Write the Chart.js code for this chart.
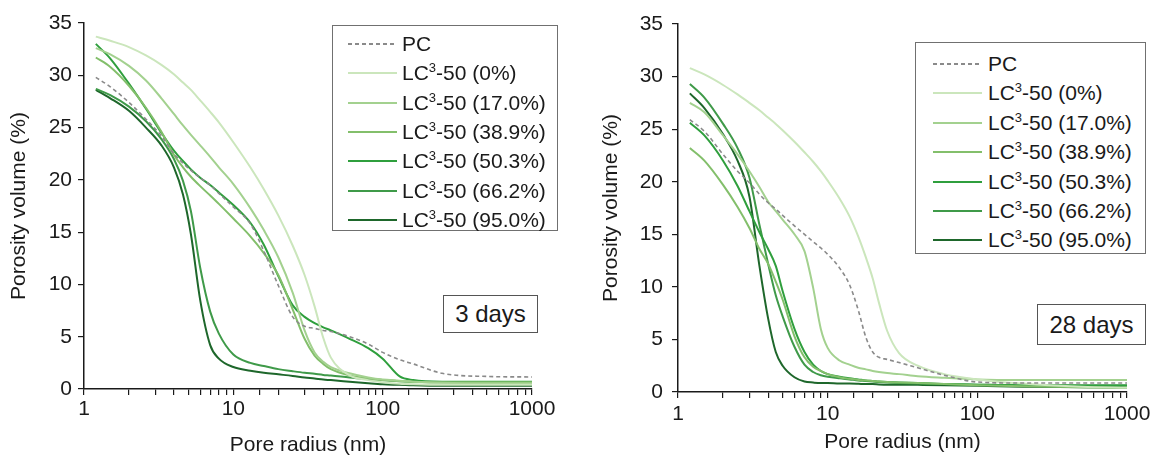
<!DOCTYPE html>
<html>
<head>
<meta charset="utf-8">
<script src="https://cdn.jsdelivr.net/npm/chart.js@4.4.0/dist/chart.umd.min.js"></script>
<style>
  body { margin: 0; background: #fff; width: 1156px; height: 464px; position: relative; overflow: hidden;
         font-family: 'Liberation Sans', Arial, sans-serif; color: #1a1a1a; }
  canvas { position: absolute; top: 0; }
  .legend { position: absolute; border: 1px solid #707070; background: #fff; box-sizing: border-box; }
  .row { position: absolute; height: 28px; line-height: 28px; font-size: 21px; white-space: nowrap; }
  .sample { position: absolute; top: 13px; width: 49px; height: 2px; }
  .sup { font-size: 13px; position: relative; top: -8px; }
  .tag { position: absolute; border: 1px solid #555; box-sizing: border-box; background: #fff;
         font-size: 24px; text-align: center; }
</style>
</head>
<body>
<canvas id="c3" width="580" height="464" style="left:0"></canvas>
<canvas id="c28" width="576" height="464" style="left:580px"></canvas>

<div class="legend" id="leg3" style="left:332px; top:25px; width:226px; height:206px"></div>
<div class="legend" id="leg28" style="left:915px; top:42px; width:231px; height:212px"></div>
<div class="tag" style="left:443px; top:295px; width:95px; height:38px; line-height:36px">3 days</div>
<div class="tag" style="left:1037px; top:304px; width:109px; height:41px; line-height:39px">28 days</div>

<script>
// Pore size distribution, PC vs LC3-50 blends

const mixes = ['0%', '17.0%', '38.9%', '50.3%', '66.2%', '95.0%'];
const mixColors = ['#cbe6bc', '#a3d18f', '#83bf6b', '#2f9f3d', '#3f9a49', '#1e672b'];
const pcColor = '#8a8a8a';

// 3 days
const radius3d = [1.2, 1.5, 2, 2.6, 3.3, 4, 4.6, 5.2, 6, 7, 8, 10, 13, 16, 20, 25, 30, 35, 40, 45, 60, 80, 100, 130, 160, 250, 500, 1000];
const pc3d    = [29.8, 28.9, 27.4, 25.8, 24.2, 22.5, 21.6, 20.9, 20.2, 19.5, 18.7, 17.4, 15.8, 13.2, 9.9, 6.9, 6.0, 5.8, 5.6, 5.5, 5.0, 4.3, 3.5, 2.8, 2.4, 1.5, 1.2, 1.15];
const lc0_3d   = [33.7, 33.3, 32.7, 31.9, 31.0, 30.1, 29.3, 28.6, 27.6, 26.5, 25.5, 23.6, 21.2, 19.1, 16.6, 13.7, 10.9, 7.9, 4.9, 3.0, 1.3, 0.85, 0.65, 0.5, 0.45, 0.4, 0.4, 0.4];
const lc17_3d  = [32.6, 32.0, 30.9, 29.5, 27.8, 26.3, 25.2, 24.3, 23.3, 22.2, 21.2, 19.6, 17.3, 15.2, 12.6, 9.2, 5.6, 3.5, 2.6, 2.1, 1.5, 1.1, 0.9, 0.8, 0.7, 0.6, 0.55, 0.55];
const lc389_3d = [31.7, 30.8, 29.0, 26.9, 24.6, 22.4, 21.2, 20.3, 19.4, 18.5, 17.7, 16.3, 14.6, 13.0, 10.9, 7.6, 4.8, 3.2, 2.4, 1.9, 1.3, 1.0, 0.85, 0.75, 0.7, 0.65, 0.65, 0.65];
const lc503_3d = [33.0, 31.6, 29.2, 26.8, 24.5, 22.8, 21.8, 21.0, 20.2, 19.5, 18.8, 17.6, 15.9, 13.8, 10.8, 8.0, 6.9, 6.3, 5.9, 5.6, 4.8, 3.9, 2.9, 1.2, 0.85, 0.7, 0.7, 0.7];
const lc662_3d = [28.7, 28.1, 27.0, 25.6, 23.9, 22.0, 19.9, 17.0, 11.6, 7.4, 5.3, 3.3, 2.5, 2.2, 1.9, 1.7, 1.55, 1.45, 1.35, 1.3, 1.1, 0.95, 0.85, 0.75, 0.7, 0.65, 0.65, 0.65];
const lc950_3d = [28.6, 27.8, 26.6, 25.0, 23.3, 21.2, 18.6, 14.8, 8.5, 4.2, 2.9, 2.1, 1.75, 1.55, 1.4, 1.25, 1.1, 1.0, 0.9, 0.85, 0.7, 0.55, 0.45, 0.4, 0.35, 0.3, 0.3, 0.3];

// 28 days
const radius28d = [1.2, 1.5, 2, 2.5, 3, 3.5, 4, 4.5, 5, 6, 7, 8, 9, 10, 12, 14, 16, 18, 20, 22, 25, 30, 40, 60, 100, 200, 500, 1000];
const pc28d    = [25.9, 24.8, 22.6, 21.0, 19.9, 18.8, 18.0, 17.4, 16.8, 15.8, 15.0, 14.3, 13.7, 13.1, 11.8, 10.2, 7.8, 5.2, 3.8, 3.3, 3.1, 2.8, 2.3, 1.6, 0.95, 0.85, 0.85, 0.85];
const lc0_28d   = [30.8, 30.2, 29.2, 28.3, 27.5, 26.8, 26.1, 25.5, 24.9, 23.8, 22.8, 21.9, 21.0, 20.1, 18.4, 16.7, 14.8, 12.8, 10.8, 8.5, 5.8, 3.7, 2.5, 1.7, 1.2, 0.8, 0.5, 0.4];
const lc17_28d  = [27.5, 26.6, 24.4, 22.6, 21.0, 19.5, 18.1, 17.2, 16.4, 15.0, 13.4, 9.9, 6.0, 4.2, 3.0, 2.6, 2.3, 2.15, 2.0, 1.9, 1.8, 1.7, 1.5, 1.35, 1.2, 1.15, 1.15, 1.15];
const lc389_28d = [23.2, 22.0, 19.7, 17.6, 15.6, 13.6, 12.2, 10.5, 8.8, 5.3, 3.3, 2.4, 2.0, 1.7, 1.4, 1.25, 1.15, 1.1, 1.05, 1.0, 0.95, 0.9, 0.85, 0.75, 0.65, 0.55, 0.45, 0.4];
const lc503_28d = [25.6, 24.4, 22.0, 19.6, 17.2, 15.2, 13.6, 12.0, 9.6, 6.0, 3.8, 2.6, 2.0, 1.7, 1.45, 1.3, 1.2, 1.1, 1.05, 1.0, 0.95, 0.9, 0.85, 0.75, 0.7, 0.65, 0.6, 0.6];
const lc662_28d = [29.3, 28.0, 25.5, 23.2, 20.4, 15.9, 12.2, 9.2, 7.2, 4.3, 2.6, 1.9, 1.6, 1.45, 1.3, 1.2, 1.1, 1.05, 1.0, 0.95, 0.9, 0.85, 0.8, 0.75, 0.7, 0.65, 0.65, 0.65];
const lc950_28d = [28.4, 27.0, 24.5, 22.0, 18.6, 12.0, 7.0, 3.8, 2.5, 1.4, 1.0, 0.9, 0.85, 0.85, 0.8, 0.8, 0.78, 0.75, 0.75, 0.72, 0.7, 0.7, 0.68, 0.65, 0.6, 0.5, 0.45, 0.4];

const xTickLabels = [1, 10, 100, 1000];
const yTickLabels = [0, 5, 10, 15, 20, 25, 30, 35];

const FONT = "'Liberation Sans', Arial, sans-serif";
const INK = '#1a1a1a';

function line(label, xs, ys, color, dashed) {
    return {
        label: label,
        data: xs.map((x, i) => ({ x: x, y: ys[i] })),
        borderColor: color,
        borderWidth: dashed ? 1.6 : 2,
        borderDash: dashed ? [4, 3] : [],
        pointRadius: 0,
        cubicInterpolationMode: 'monotone',
        fill: false
    };
}

function makePanel(id, xs, pc, mixSeries, g) {
    const datasets = [line('PC', xs, pc, pcColor, true)];
    mixSeries.forEach((ys, i) => datasets.push(line('LC³-50 (' + mixes[i] + ')', xs, ys, mixColors[i], false)));

    new Chart(document.getElementById(id), {
        type: 'line',
        data: { datasets: datasets },
        options: {
            responsive: false,
            animation: false,
            layout: { padding: { top: g.top, right: g.right, left: 0, bottom: 0 } },
            plugins: { legend: { display: false }, tooltip: { enabled: false } },
            scales: {
                x: {
                    type: 'logarithmic', min: 1, max: 1000,
                    border: { color: INK, width: 1.5 },
                    grid: { drawOnChartArea: false, drawTicks: true, tickLength: 6, color: INK, lineWidth: 1.2 },
                    ticks: {
                        autoSkip: false, maxRotation: 0, padding: g.xPad, color: INK,
                        font: { size: 21, family: FONT },
                        callback: v => xTickLabels.some(t => Math.abs(t - v) < 1e-6) ? String(Math.round(v)) : ''
                    },
                    title: { display: true, text: 'Pore radius (nm)', color: INK,
                             font: { size: 21, family: FONT }, padding: { top: 0, bottom: g.xTitlePad } },
                    afterFit: s => { s.height = g.xh; }
                },
                y: {
                    min: 0, max: 35,
                    border: { color: INK, width: 1.5 },
                    grid: { drawOnChartArea: false, drawTicks: true, tickLength: 6, color: INK, lineWidth: 1.2 },
                    ticks: {
                        stepSize: 2.5, padding: g.yPad, color: INK,
                        font: { size: 21, family: FONT },
                        callback: v => yTickLabels.includes(v) ? String(v) : ''
                    },
                    title: { display: true, text: 'Porosity volume (%)', color: INK,
                             font: { size: 21, family: FONT }, padding: { top: g.yTitlePad, bottom: 0 } },
                    afterFit: s => { s.width = g.yw; }
                }
            }
        }
    });
}

makePanel('c3', radius3d, pc3d, [lc0_3d, lc17_3d, lc389_3d, lc503_3d, lc662_3d, lc950_3d],
    { top: 23, right: 48, xh: 75, yw: 84, xPad: 2, yPad: 6, xTitlePad: 6, yTitlePad: 7 });
makePanel('c28', radius28d, pc28d, [lc0_28d, lc17_28d, lc389_28d, lc503_28d, lc662_28d, lc950_28d],
    { top: 24, right: 29, xh: 72, yw: 98, xPad: 4, yPad: 9, xTitlePad: 9, yTitlePad: 19 });

// Legends (html, so the superscript stays real text)
function buildLegend(id, first, step, sampleLeft, textLeft) {
    const box = document.getElementById(id);
    const rows = [{ html: 'PC', color: pcColor, dashed: true }]
        .concat(mixes.map((m, i) => ({ html: 'LC<span class="sup">3</span>-50 (' + m + ')', color: mixColors[i], dashed: false })));
    rows.forEach((r, i) => {
        const top = first + step * i - 14;
        const sample = document.createElement('div');
        sample.className = 'sample';
        sample.style.left = sampleLeft + 'px';
        sample.style.top = (top + 13) + 'px';
        sample.style.background = r.dashed
            ? 'repeating-linear-gradient(90deg, ' + r.color + ' 0 4px, transparent 4px 7px)'
            : r.color;
        box.appendChild(sample);
        const row = document.createElement('div');
        row.className = 'row';
        row.style.left = textLeft + 'px';
        row.style.top = top + 'px';
        row.innerHTML = r.html;
        box.appendChild(row);
    });
}

buildLegend('leg3', 18, 29.3, 15, 69);
buildLegend('leg28', 21, 29.4, 17, 72);
</script>
</body>
</html>
